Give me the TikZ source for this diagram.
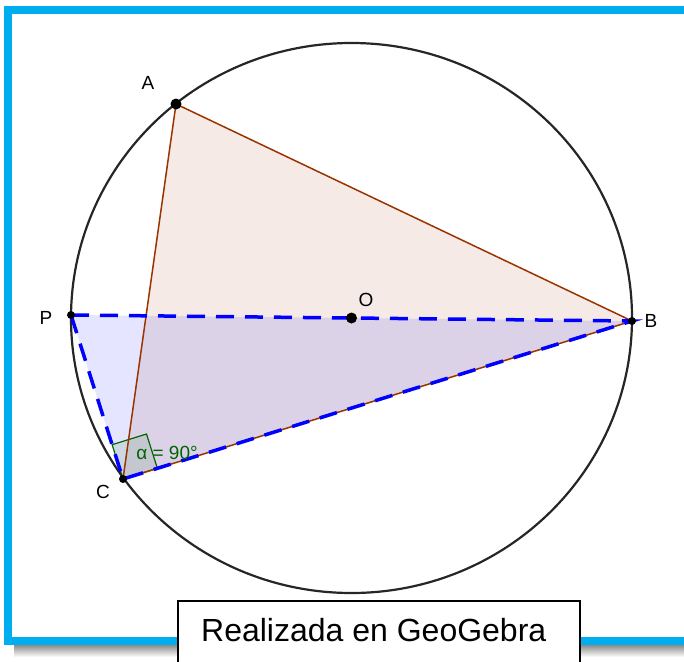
\documentclass[tikz,border=0pt]{standalone}
\usepackage{fontspec}
\setmainfont{Liberation Sans}
\usetikzlibrary{calc}
\definecolor{geobrown}{RGB}{153,51,0}
\definecolor{geogreen}{RGB}{0,100,0}
\definecolor{framecyan}{RGB}{0,174,239}

\begin{document}
\begin{tikzpicture}[x=1pt,y=-1pt,
  lbl/.style={font=\fontsize{19}{22}\selectfont},
  pt/.style={fill=black},
  trifill/.style={fill=geobrown,fill opacity=.1},
  trisides/.style={geobrown,line width=1.5pt,line join=round},
  bluefill/.style={fill=blue,fill opacity=.1},
  bluesides/.style={blue,line width=3.5pt,dash pattern=on 18pt off 11pt},
  anglemark/.style={geogreen,line width=1.2pt,fill=geogreen,fill opacity=.1}]
\useasboundingbox (0,0) rectangle (684,661);
\clip (0,0) rectangle (684,661);
\coordinate (O) at (351.5,318);
\coordinate (A) at (176,104);
\coordinate (B) at (632,321);
\coordinate (P) at (71,315);
\coordinate (C) at (123,479);
% filled triangles
\fill[trifill] (A) -- (B) -- (C) -- cycle;
\fill[bluefill] (P) -- (B) -- (C) -- cycle;
% right angle at C
\draw[anglemark] (C) -- ($(C)!36pt!(P)$) -- ($($(C)!36pt!(P)$)+($(C)!36pt!(B)$)-(C)$) -- ($(C)!36pt!(B)$) -- cycle;
\draw[black!85,line width=2.2pt] (O) ellipse [x radius=280.5,y radius=275];
\draw[trisides] (A) -- (B) -- (C) -- cycle;
\draw[bluesides] (P) -- (B) -- (C) -- cycle;
\foreach \p/\r in {A/5.5,O/5.5,B/4,P/4,C/4} \fill[pt] (\p) circle (\r);
% labels
\node[lbl] (labA) at (148,83) {A};
\node[lbl] (labO) at (366,300) {O};
\node[lbl] (labB) at (651,321) {B};
\node[lbl] (labP) at (46,318) {P};
\node[lbl] (labC) at (103,492) {C};
\node[lbl,text=geogreen] (alpha) at (167,453) {α = 90°};
% frame with shadow
\shade[top color=black!45,bottom color=white] (14,645) rectangle (684,657);
\draw[framecyan,line width=8pt] (684,10) -- (8,10) -- (8,641) -- (684,641);
% note box
\draw[fill=white,line width=1.6pt] (178,601) rectangle (580,670);
\node[anchor=base west,inner sep=0pt,font=\fontsize{32}{38}\selectfont] (note) at (201,641) {Realizada en GeoGebra};
\end{tikzpicture}
\end{document}
